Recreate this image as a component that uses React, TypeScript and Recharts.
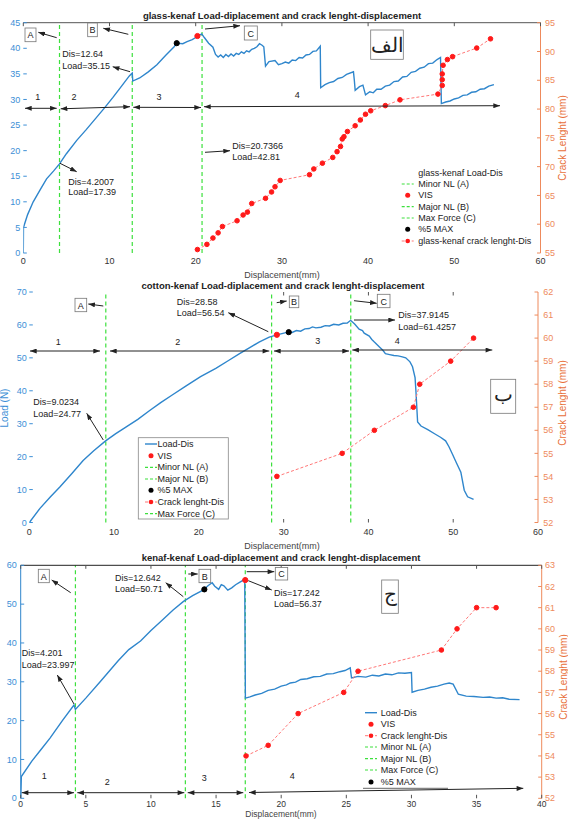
import React from 'react'
import { ComposedChart, Line, XAxis, YAxis, ReferenceLine, ReferenceDot } from 'recharts'

const W = 568
const H = 819
const BLUE = '#2f86cc'
const RED = '#ff1a1a'
const GREEN = '#3de03d'
const ORANGE = '#ee8a5c'
const FONT = "'Liberation Sans', Arial, sans-serif"

// ---- glass-kenaf (top) ----
const glassLoad = [
  [0, 0], [0.02, 5], [0.5, 7.5], [1.15, 10], [2, 12.5], [2.7, 14.5], [3.5, 16], [4.2, 17.4],
  [5, 19.4], [6.2, 22], [7.3, 24.1], [8.4, 26.3], [9.4, 28.3], [10.4, 30.4], [11.4, 32.6],
  [12.3, 34.6], [12.64, 35.15], [12.7, 33.6], [13.5, 34.2], [14.5, 35.4], [15.5, 36.8],
  [16.5, 38.6], [17.5, 40.3], [17.8, 41.0], [18.5, 40.9], [19.0, 41.3], [19.6, 41.7],
  [20.2, 42.3], [20.7, 42.8], [21.0, 42.1], [21.5, 41.0], [22.0, 40.2], [22.3, 38.8],
  [22.6, 38.3], [22.9, 38.7], [23.2, 38.2], [23.5, 38.8], [23.8, 38.4], [24.1, 38.9],
  [24.4, 38.5], [24.7, 39.0], [25.0, 38.8], [25.3, 39.3], [25.6, 39.0], [25.9, 39.5],
  [26.2, 39.3], [26.5, 39.8], [26.8, 40.0], [27.1, 40.3], [27.4, 40.9], [27.7, 40.6],
  [27.9, 40.3], [28.1, 36.5], [28.5, 37.4], [29.2, 37.6], [29.6, 36.8], [30.0, 37.0],
  [30.4, 37.3], [30.8, 37.1], [31.2, 37.7], [31.6, 37.6], [32.0, 38.2], [32.4, 38.1],
  [32.8, 38.7], [33.2, 38.8], [33.6, 39.4], [34.0, 39.5], [34.45, 40.4], [34.5, 32.3],
  [35.0, 32.9], [35.5, 33.3], [36.0, 33.5], [36.5, 34.1], [37.0, 34.3], [37.5, 34.9],
  [38.3, 35.4], [38.4, 33.8], [38.5, 31.8], [39.0, 32.5], [39.4, 32.8], [39.7, 30.9],
  [40.2, 31.5], [40.6, 31.3], [41, 32.0], [41.5, 32.0], [42, 32.6], [42.5, 32.8],
  [43, 33.5], [43.5, 33.6], [44, 34.4], [44.5, 34.5], [45, 35.3], [45.5, 35.5],
  [46, 36.1], [46.5, 36.3], [47, 37.0], [47.5, 37.1], [48, 37.8], [48.4, 38.2],
  [48.5, 29.2], [49.0, 29.5], [49.5, 29.7], [50.0, 30.1], [50.5, 30.3], [51.0, 30.8],
  [51.5, 30.9], [52.0, 31.4], [52.5, 31.5], [53.0, 32.0], [53.5, 32.1], [54.0, 32.6],
  [54.6, 32.9],
]
const glassCrack = [
  [20.2, 55.6], [21.3, 56.5], [22.0, 57.6], [22.6, 58.5], [23.1, 59.6], [24.8, 60.6],
  [25.5, 61.6], [26.0, 62.1], [26.5, 63.6], [28.1, 64.5], [28.8, 65.6], [29.2, 66.5],
  [29.8, 67.6], [33.2, 68.6], [33.7, 69.6], [34.7, 70.6], [35.9, 71.6], [36.4, 72.6],
  [36.8, 73.5], [37.0, 74.8], [37.2, 75.2], [37.6, 76.1], [38.5, 77.1], [39.1, 78.1],
  [39.7, 79.1], [40.3, 79.7], [42.0, 80.6], [43.7, 81.6], [48.1, 82.6], [48.6, 84.1],
  [48.6, 85.1], [48.6, 86.1], [48.7, 87.6], [49.2, 88.6], [49.8, 89.1], [52.6, 90.6],
  [54.2, 92.2],
]
const glassMarks = [4.2007, 12.64, 20.7366]
const glassVis = [20.2, 42.4]
const glassMax5 = [17.8, 41.0]
const glassXTicks = [0, 10, 20, 30, 40, 50, 60]
const glassLoadTicks = [0, 5, 10, 15, 20, 25, 30, 35, 40, 45]
const glassCrackTicks = [55, 60, 65, 70, 75, 80, 85, 90, 95]

// ---- cotton-kenaf (middle) ----
const cottonLoad = [
  [0, 0], [1.26, 4.3], [2.5, 7.8], [3.6, 10.8], [5, 14.8], [6.35, 18.8], [7.6, 21.8],
  [9.0, 24.8], [10.2, 27.0], [11.3, 28.8], [12.8, 31.3], [14.2, 34.0], [15.5, 36.4],
  [16.9, 38.8], [18.5, 41.5], [20.2, 44.3], [22, 46.8], [23.5, 49.2], [24.8, 51.3],
  [26, 53.1], [27.1, 54.8], [28.3, 56.3], [29.2, 57.0], [30.5, 57.8], [31, 57.7],
  [31.5, 58.3], [32, 58.1], [32.5, 58.8], [33, 58.9], [33.4, 59.4], [33.8, 59.1],
  [34.4, 59.3], [34.9, 59.8], [35.4, 59.7], [35.9, 60.2], [36.5, 60.0], [37, 60.5],
  [37.5, 60.6], [37.9, 61.4], [38.4, 60.2], [38.9, 58.7], [39.3, 58.3], [39.5, 57.5],
  [40.1, 56.6], [40.4, 55.6], [40.7, 54.8], [41.3, 53.3], [41.7, 52.3], [42, 51.3],
  [42.5, 51.0], [43, 50.7], [43.5, 50.6], [44, 50.3], [44.4, 50], [44.9, 48.8],
  [45.2, 47.3], [45.5, 44], [45.6, 40], [45.8, 30.5], [46.2, 29.3], [47, 28.2],
  [47.9, 26.8], [48.5, 25.9], [49.1, 24.8], [49.5, 23], [49.9, 20.8], [50.4, 18],
  [50.9, 15.3], [51.3, 9.8], [51.7, 7.8], [52.4, 7.0],
]
const cottonCrack = [[29.2, 54], [36.9, 55], [40.7, 56], [45.3, 57], [46.05, 58], [49.7, 59], [52.4, 60]]
const cottonMarks = [9.0234, 28.58, 37.9145]
const cottonVis = [29.2, 57.0]
const cottonMax5 = [30.6, 57.8]
const cottonXTicks = [0, 10, 20, 30, 40, 50, 60]
const cottonLoadTicks = [0, 10, 20, 30, 40, 50, 60, 70]
const cottonCrackTicks = [52, 53, 54, 55, 56, 57, 58, 59, 60, 61, 62]

// ---- kenaf-kenaf (bottom) ----
const kenafLoad = [
  [0, 0], [0.05, 5.6], [0.84, 9.5], [1.5, 12.3], [2.25, 15.5], [3.2, 20], [4.09, 24.0],
  [4.2, 22.9], [5, 25.8], [6.1, 30], [7.5, 35.5], [8.3, 38.3], [9.2, 40.5], [10, 43.2],
  [10.9, 46], [11.7, 48.5], [12.5, 50.7], [13.2, 52.2], [14.0, 53.6], [14.4, 54.8],
  [14.7, 55.5], [14.9, 54.6], [15.2, 53.8], [15.4, 55.0], [15.6, 54.7], [15.9, 53.6],
  [16.2, 54.2], [16.5, 55.0], [16.8, 55.6], [17.2, 56.4], [17.25, 25.8], [17.6, 26.1],
  [18, 26.6], [18.5, 27.0], [19, 27.8], [19.5, 28.1], [20, 28.9], [20.4, 29.2],
  [20.7, 29.7], [21.1, 29.9], [21.5, 30.6], [22, 30.8], [22.5, 31.3], [23, 31.4],
  [23.5, 32.0], [24, 32.1], [24.5, 32.6], [24.9, 32.9], [25.3, 33.6], [25.4, 31.0],
  [25.9, 31.4], [26.5, 31.2], [27, 31.7], [27.5, 31.5], [28, 32.0], [28.5, 31.8],
  [29, 32.3], [29.5, 32.2], [30.0, 32.4], [30.05, 27.3], [30.5, 27.8], [31, 28.1],
  [31.5, 28.6], [32, 28.9], [32.5, 29.4], [32.9, 29.7], [33.2, 29.4], [33.6, 26.8],
  [34.2, 26.3], [34.8, 26.2], [35.5, 26.0], [36, 26.1], [36.5, 25.8], [37, 25.9],
  [37.5, 25.5], [38.3, 25.4],
]
const kenafCrack = [[17.3, 54], [19.0, 54.5], [21.3, 56], [24.8, 57], [25.9, 58], [32.3, 59], [33.5, 60], [35.0, 61], [36.5, 61]]
const kenafMarks = [4.201, 12.642, 17.242]
const kenafVis = [17.24, 56.2]
const kenafMax5 = [14.1, 53.8]
const kenafXTicks = [0, 5, 10, 15, 20, 25, 30, 35, 40]
const kenafLoadTicks = [0, 10, 20, 30, 40, 50, 60]
const kenafCrackTicks = [52, 53, 54, 55, 56, 57, 58, 59, 60, 61, 62, 63]

// plot boxes in page pixels
const B1 = { left: 23.3, right: 540.5, top: 22.7, bottom: 253 }
const B2 = { left: 29.3, right: 538, top: 292, bottom: 522.5 }
const B3 = { left: 20.7, right: 541.7, top: 565.3, bottom: 798.3 }

const pts = (a: number[][]) => a.map(([d, v]) => ({ d, v }))

function Panel(p: any) {
  const { box } = p
  const xFont = p.xFont || 9
  return (
    <div style={{ position: 'absolute', left: 0, top: 0 }}>
      <ComposedChart width={W} height={H} margin={{ top: box.top, bottom: H - box.bottom - 20, left: 0, right: 0 }}>
        <XAxis type="number" dataKey="d" domain={p.xDomain} ticks={p.xTicks} interval={0} height={20}
               axisLine={false} tickLine={false} tickSize={0} tickMargin={p.xTickMargin}
               tick={{ fill: '#333', fontSize: xFont }} allowDataOverflow />
        <YAxis yAxisId="left" orientation="left" width={box.left} domain={p.loadDomain} ticks={p.loadTicks}
               interval={0} axisLine={p.leftAxis ? { stroke: BLUE } : false} tickLine={false} tickSize={0}
               tickMargin={p.leftMargin} tick={{ fill: '#3d8fd6', fontSize: 9 }} allowDataOverflow />
        <YAxis yAxisId="right" orientation="right" width={W - box.right} domain={p.crackDomain} ticks={p.crackTicks}
               interval={0} axisLine={{ stroke: ORANGE }} tickLine={false} tickSize={0}
               tickMargin={p.rightMargin} tick={{ fill: ORANGE, fontSize: 9 }} allowDataOverflow />
        {p.marks.map((m: number) => (
          <ReferenceLine key={m} x={m} yAxisId="left" stroke={GREEN} strokeDasharray="4 3" strokeWidth={1.2} />
        ))}
        <Line yAxisId="left" data={pts(p.load)} dataKey="v" stroke={BLUE} strokeWidth={1.4}
              dot={false} isAnimationActive={false} />
        <Line yAxisId="right" data={pts(p.crack)} dataKey="v" stroke="#ff7777" strokeDasharray="3 2"
              strokeWidth={1} dot={{ r: 2.3, fill: RED, stroke: RED, strokeDasharray: '' }} isAnimationActive={false} />
        <ReferenceDot yAxisId="left" x={p.vis[0]} y={p.vis[1]} r={2.6} fill={RED} stroke={RED} />
        <ReferenceDot yAxisId="left" x={p.max5[0]} y={p.max5[1]} r={2.6} fill="#000" stroke="#000" />
      </ComposedChart>
    </div>
  )
}

const Arrow = ({ a, both }: { a: number[]; both?: boolean }) => (
  <line x1={a[0]} y1={a[1]} x2={a[2]} y2={a[3]} stroke="#222" strokeWidth={1}
        markerEnd="url(#ah)" markerStart={both ? 'url(#ah)' : undefined} />
)

const T = ({ x, y, s = 9, c = '#222', a = 'start', w = 'normal', children }: any) => (
  <text x={x} y={y} fontSize={s} fill={c} textAnchor={a} fontWeight={w} dominantBaseline="central">{children}</text>
)

const Box = ({ x, y, w, h, label, s = 9 }: any) => (
  <g>
    <rect x={x} y={y} width={w} height={h} fill="#fff" stroke="#777" strokeWidth={0.8} />
    <T x={x + w / 2} y={y + h / 2 + 0.5} a="middle" s={s}>{label}</T>
  </g>
)

const VLabel = ({ x, y, c, children }: any) => (
  <text x={x} y={y} fontSize={10} fill={c} textAnchor="middle" dominantBaseline="central"
        transform={`rotate(-90 ${x} ${y})`}>{children}</text>
)

function LegendRow({ x, tx, y, kind, label }: any) {
  let sym = null
  if (kind === 'green') sym = <line x1={x} y1={y} x2={x + 12} y2={y} stroke={GREEN} strokeDasharray="3 2" strokeWidth={1.2} />
  if (kind === 'blue') sym = <line x1={x} y1={y} x2={x + 12} y2={y} stroke={BLUE} strokeWidth={1.4} />
  if (kind === 'red') sym = <circle cx={x + 6} cy={y} r={2.5} fill={RED} />
  if (kind === 'black') sym = <circle cx={x + 6} cy={y} r={2.5} fill="#000" />
  if (kind === 'crack') sym = (
    <g>
      <line x1={x} y1={y} x2={x + 12} y2={y} stroke="#ff7777" strokeDasharray="3 2" />
      <circle cx={x + 6} cy={y} r={2.3} fill={RED} />
    </g>
  )
  return <g>{sym}<T x={tx} y={y}>{label}</T></g>
}

function Ticks({ box, xDom, lDom, rDom, lT, rT, xBottom, xTop }: any) {
  const px = (d: number) => box.left + ((d - xDom[0]) / (xDom[1] - xDom[0])) * (box.right - box.left)
  const pl = (v: number) => box.bottom - ((v - lDom[0]) / (lDom[1] - lDom[0])) * (box.bottom - box.top)
  const pr = (v: number) => box.bottom - ((v - rDom[0]) / (rDom[1] - rDom[0])) * (box.bottom - box.top)
  return (
    <g>
      {lT.map((v: number) => <line key={'l' + v} x1={box.left} x2={box.left + 3.5} y1={pl(v)} y2={pl(v)} stroke="#3d8fd6" />)}
      {rT.map((v: number) => <line key={'r' + v} x1={box.right - 3.5} x2={box.right} y1={pr(v)} y2={pr(v)} stroke={ORANGE} />)}
      {xBottom.map((v: number) => <line key={'b' + v} x1={px(v)} x2={px(v)} y1={box.bottom} y2={box.bottom - 3.5} stroke="#555" />)}
      {xTop.map((v: number) => <line key={'t' + v} x1={px(v)} x2={px(v)} y1={box.top} y2={box.top + 3.5} stroke="#555" />)}
    </g>
  )
}

function Overlay() {
  return (
    <svg width={W} height={H} style={{ position: 'absolute', left: 0, top: 0, fontFamily: FONT }}>
      <defs>
        <marker id="ah" viewBox="0 0 8 6" markerWidth={7} markerHeight={5} refX={8} refY={3}
                orient="auto-start-reverse" markerUnits="userSpaceOnUse">
          <path d="M0,0 L8,3 L0,6 z" fill="#222" />
        </marker>
      </defs>

      {/* ---------- panel 1 ---------- */}
      <line x1={B1.left} x2={B1.right} y1={B1.top} y2={B1.top} stroke="#555" />
      <Ticks box={B1} xDom={[0, 60]} lDom={[0, 45]} rDom={[55, 95]} lT={glassLoadTicks} rT={glassCrackTicks} xBottom={[]} xTop={glassXTicks} />
      <T x={282} y={15} a="middle" w="bold" s={9.5}>glass-kenaf Load-diplacement and crack lenght-displacement</T>
      <T x={282} y={275} a="middle" c="#444">Displacement(mm)</T>
      <VLabel x={562} y={138} c="#e8703a">Crack Lenght (mm)</VLabel>
      <Box x={25} y={28} w={11} h={13.7} label="A" />
      <Arrow a={[56.7, 37.7, 38.3, 32.3]} />
      <Box x={87.7} y={23} w={9.6} h={13.7} label="B" />
      <Arrow a={[128.3, 34.3, 103.3, 28.3]} />
      <Box x={244.3} y={26} w={13} h={14} label="C" />
      <Arrow a={[205, 29, 240, 25.7]} />
      <T x={62.3} y={54}>Dis=12.64</T>
      <T x={62.3} y={65.7}>Load=35.15</T>
      <Arrow a={[130, 71.7, 112.7, 66.7]} />
      <T x={68.3} y={181.7}>Dis=4.2007</T>
      <T x={68.3} y={192.3}>Load=17.39</T>
      <Arrow a={[60, 163.3, 76.7, 171.7]} />
      <T x={232.3} y={145.7}>Dis=20.7366</T>
      <T x={232.3} y={156.7}>Load=42.81</T>
      <Arrow a={[205, 152.3, 230, 150.7]} />
      <Arrow a={[25, 108.3, 56.7, 108.3]} both />
      <Arrow a={[60.7, 108.8, 130, 106.7]} both />
      <Arrow a={[133.3, 107.3, 201, 107.5]} both />
      <Arrow a={[204, 106.7, 500, 105.7]} both />
      <T x={37.7} y={96.7} a="middle">1</T>
      <T x={74} y={96.7} a="middle">2</T>
      <T x={159} y={96.7} a="middle">3</T>
      <T x={297.3} y={95} a="middle">4</T>
      <rect x={370.7} y={30} width={32.6} height={29.3} fill="#fff" stroke="#777" strokeWidth={0.8} />
      <T x={387} y={45} a="middle" s={20}>الف</T>
      <T x={418.3} y={172.7}>glass-kenaf Load-Dis</T>
      <LegendRow x={401.7} tx={418.3} y={184} kind="green" label="Minor NL (A)" />
      <LegendRow x={401.7} tx={418.3} y={195.3} kind="red" label="VIS" />
      <LegendRow x={401.7} tx={418.3} y={206.7} kind="green" label="Major NL (B)" />
      <LegendRow x={401.7} tx={418.3} y={218} kind="green" label="Max Force (C)" />
      <LegendRow x={401.7} tx={418.3} y={229.3} kind="black" label="%5 MAX" />
      <LegendRow x={401.7} tx={418.3} y={241} kind="crack" label="glass-kenaf crack lenght-Dis" />

      {/* ---------- panel 2 ---------- */}
      <Ticks box={B2} xDom={[0, 60]} lDom={[0, 70]} rDom={[52, 62]} lT={cottonLoadTicks} rT={cottonCrackTicks} xBottom={[30, 40, 50]} xTop={[30, 40, 50]} />
      <T x={283} y={285} a="middle" w="bold" s={9.5}>cotton-kenaf Load-diplacement and crack lenght-displacement</T>
      <T x={282} y={546} a="middle" c="#444">Displacement(mm)</T>
      <VLabel x={4} y={408} c="#3d8fd6">Load (N)</VLabel>
      <VLabel x={562} y={403} c="#e8703a">Crack Lenght (mm)</VLabel>
      <Box x={75} y={298.3} w={11.7} h={13.4} label="A" />
      <Arrow a={[103.3, 306, 88.3, 304]} />
      <Box x={289.3} y={296} w={9.5} h={11.7} label="B" />
      <Arrow a={[276.7, 302.7, 286.7, 301]} />
      <Box x={377.3} y={294.3} w={12.7} h={13.4} label="C" />
      <Arrow a={[354, 300.7, 376.7, 303.3]} />
      <T x={176.7} y={301.7}>Dis=28.58</T>
      <T x={176.7} y={313.3}>Load=56.54</T>
      <Arrow a={[268.3, 331.7, 228.3, 312.7]} />
      <T x={398.3} y={315}>Dis=37.9145</T>
      <T x={398.3} y={326.7}>Load=61.4257</T>
      <Arrow a={[354, 320, 395, 320]} />
      <T x={33.3} y={402.3}>Dis=9.0234</T>
      <T x={33.3} y={414.3}>Load=24.77</T>
      <Arrow a={[103.3, 440, 86.7, 413.3]} />
      <Arrow a={[30, 351, 100, 351]} both />
      <Arrow a={[110, 351, 269.3, 351]} both />
      <Arrow a={[274, 351, 349, 351]} both />
      <Arrow a={[352.3, 350, 492.3, 350]} both />
      <T x={58.3} y={341.7} a="middle">1</T>
      <T x={177.7} y={341.7} a="middle">2</T>
      <T x={317.7} y={341} a="middle">3</T>
      <T x={397.3} y={341} a="middle">4</T>
      <rect x={490.7} y={379.3} width={25} height={34} fill="#fff" stroke="#777" strokeWidth={0.8} />
      <T x={503.2} y={394} a="middle" s={20}>ب</T>
      <rect x={138.3} y={437.7} width={90} height={81.3} fill="#fff" stroke="#888" strokeWidth={0.8} />
      <LegendRow x={145} tx={157.5} y={444} kind="blue" label="Load-Dis" />
      <LegendRow x={145} tx={157.5} y={455.7} kind="red" label="VIS" />
      <LegendRow x={145} tx={157.5} y={467.3} kind="green" label="Minor NL (A)" />
      <LegendRow x={145} tx={157.5} y={479} kind="green" label="Major NL (B)" />
      <LegendRow x={145} tx={157.5} y={490.3} kind="black" label="%5 MAX" />
      <LegendRow x={145} tx={157.5} y={502} kind="crack" label="Crack lenght-Dis" />
      <LegendRow x={145} tx={157.5} y={513.7} kind="green" label="Max Force (C)" />

      {/* ---------- panel 3 ---------- */}
      <line x1={B3.left} x2={B3.right} y1={B3.top} y2={B3.top} stroke="#222" />
      <Ticks box={B3} xDom={[0, 40]} lDom={[0, 60]} rDom={[52, 63]} lT={kenafLoadTicks} rT={kenafCrackTicks} xBottom={kenafXTicks} xTop={kenafXTicks} />
      <T x={281} y={557.3} a="middle" w="bold" s={9.5}>kenaf-kenaf Load-diplacement and crack lenght-displacement</T>
      <T x={281} y={814} a="middle" c="#444" s={8.5}>Displacement(mm)</T>
      <VLabel x={563} y={677} c="#e8703a">Crack Lenght (mm)</VLabel>
      <Box x={38.3} y={569.3} w={11} h={13.4} label="A" />
      <Arrow a={[70.7, 592.7, 51.7, 580]} />
      <Box x={199} y={569.3} w={11.7} h={13.4} label="B" />
      <Arrow a={[188.3, 574, 197.7, 574]} />
      <Box x={275.3} y={567.5} w={12.4} h={12.5} label="C" />
      <Arrow a={[246.7, 571.7, 274.3, 571.7]} />
      <T x={115} y={577.7}>Dis=12.642</T>
      <T x={115} y={589.3}>Load=50.71</T>
      <Arrow a={[183.3, 596.7, 165.7, 582.7]} />
      <T x={274} y={593.3}>Dis=17.242</T>
      <T x={274} y={604}>Load=56.37</T>
      <Arrow a={[248.3, 580.7, 271.7, 590]} />
      <T x={21.7} y={653.3}>Dis=4.201</T>
      <T x={21.7} y={665}>Load=23.997</T>
      <Arrow a={[74, 704, 57.3, 675]} />
      <Arrow a={[21.7, 792.7, 74, 792.7]} both />
      <Arrow a={[77.3, 792.7, 184.3, 792.7]} both />
      <Arrow a={[187.7, 792.7, 243.3, 792.7]} both />
      <Arrow a={[249, 792.5, 523.3, 788.3]} both />
      <T x={44.3} y={775.7} a="middle">1</T>
      <T x={107.3} y={781.7} a="middle">2</T>
      <T x={204.3} y={778.3} a="middle">3</T>
      <T x={292.3} y={776} a="middle">4</T>
      <rect x={381.7} y={580} width={16.6} height={33.3} fill="#fff" stroke="#777" strokeWidth={0.8} />
      <T x={390} y={594} a="middle" s={20}>ج</T>
      <line x1={363} x2={448} y1={788.3} y2={788.3} stroke="#666" />
      <LegendRow x={365} tx={380.7} y={712.7} kind="blue" label="Load-Dis" />
      <LegendRow x={365} tx={380.7} y={724.3} kind="red" label="VIS" />
      <LegendRow x={365} tx={380.7} y={735.7} kind="crack" label="Crack lenght-Dis" />
      <LegendRow x={365} tx={380.7} y={747} kind="green" label="Minor NL (A)" />
      <LegendRow x={365} tx={380.7} y={758.7} kind="green" label="Major NL (B)" />
      <LegendRow x={365} tx={380.7} y={770} kind="green" label="Max Force (C)" />
      <LegendRow x={365} tx={380.7} y={782} kind="black" label="%5 MAX" />
    </svg>
  )
}

export default function App() {
  return (
    <div style={{ position: 'absolute', left: 0, top: 0, width: W, height: H, background: '#fff', fontFamily: FONT }}>
      <Panel box={B1} xDomain={[0, 60]} xTicks={glassXTicks} loadDomain={[0, 45]} loadTicks={glassLoadTicks}
             crackDomain={[55, 95]} crackTicks={glassCrackTicks} load={glassLoad} crack={glassCrack}
             marks={glassMarks} vis={glassVis} max5={glassMax5} leftAxis={false}
             xTickMargin={4.8} leftMargin={3} rightMargin={4.5} />
      <Panel box={B2} xDomain={[0, 60]} xTicks={cottonXTicks} loadDomain={[0, 70]} loadTicks={cottonLoadTicks}
             crackDomain={[52, 62]} crackTicks={cottonCrackTicks} load={cottonLoad} crack={cottonCrack}
             marks={cottonMarks} vis={cottonVis} max5={cottonMax5} leftAxis={false}
             xTickMargin={6} leftMargin={2.6} rightMargin={5.3} />
      <Panel box={B3} xDomain={[0, 40]} xTicks={kenafXTicks} loadDomain={[0, 60]} loadTicks={kenafLoadTicks}
             crackDomain={[52, 63]} crackTicks={kenafCrackTicks} load={kenafLoad} crack={kenafCrack}
             marks={kenafMarks} vis={kenafVis} max5={kenafMax5} leftAxis={true}
             xTickMargin={2.6} xFont={8.5} leftMargin={4} rightMargin={3.3} />
      <Overlay />
    </div>
  )
}
